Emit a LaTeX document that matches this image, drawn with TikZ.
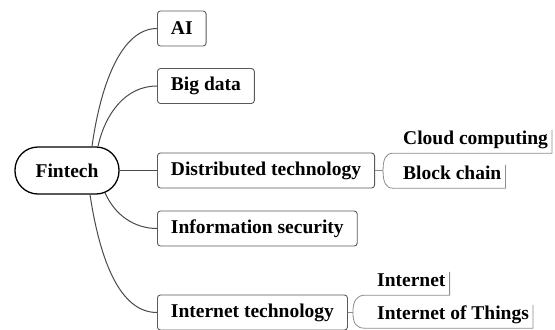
\documentclass[tikz,border=0pt]{standalone}
\usepackage{fontspec}
\setmainfont{Liberation Serif}
\definecolor{boxgray}{HTML}{5A5A5A}
\definecolor{linkgray}{HTML}{4A4A4A}
\definecolor{leafgray}{HTML}{8C8C8C}
\begin{document}
\begin{tikzpicture}[x=1bp,y=-1bp,
  every node/.style={font=\fontsize{19.5bp}{23bp}\selectfont\bfseries, text=black},
  topic/.style={draw=boxgray, line width=0.9bp, rounded corners=3bp, fill=white,
    inner xsep=13.5bp, minimum height=35bp, anchor=west},
  root/.style={draw=black, line width=1.3bp, rounded corners=23bp, fill=white,
    minimum width=104bp, minimum height=47bp},
  leaf/.style={inner xsep=4bp, inner ysep=3.5bp, text height=14bp, text depth=5bp, anchor=west},
  link/.style={draw=linkgray, line width=1bp},
  leafline/.style={draw=leafgray, line width=0.8bp}]
\useasboundingbox (0,0) rectangle (555,329);
\clip (0,0) rectangle (555,329);

\node[root] (fin) at (67,170.5) {Fintech};
\node[topic] (ai) at (157,28.5) {AI};
\node[topic] (bd) at (157,86) {Big data};
\node[topic] (dt) at (157,170.5) {Distributed technology};
\node[topic] (is) at (157,228.5) {Information security};
\node[topic] (it) at (157,312.5) {Internet technology};

\node[leaf] (cc) at (399,140) {Cloud computing};
\node[leaf] (bc) at (399,175) {Block chain};
\node[leaf] (in) at (373,282) {Internet};
\node[leaf] (iot) at (373,315) {Internet of Things};

\draw[link] ([xshift=25bp]fin.north) .. controls +(8,-58) and +(-37,0) .. (ai.west);
\draw[link] ([xshift=31bp]fin.north) .. controls +(7,-32) and +(-32,0) .. (bd.west);
\draw[link] (fin.east) -- (dt.west);
\draw[link] ([xshift=38bp,yshift=2bp]fin.south) .. controls +(10,23) and +(-22,0) .. (is.west);
\draw[link] ([xshift=23bp]fin.south) .. controls +(10,66) and +(-37,0) .. (it.west);

\draw[leafline] (dt.east) -- ++(8,0) coordinate (dtj);
\draw[leafline] (dtj) .. controls +(0,-12) and +(-7,0) .. ([xshift=-6bp]cc.south west)
  -- (cc.south east) -- ([yshift=-3bp]cc.north east);
\draw[leafline] (dtj) .. controls +(0,12) and +(-7,0) .. ([xshift=-6bp]bc.south west)
  -- (bc.south east) -- ([yshift=-3bp]bc.north east);

\draw[leafline] (it.east) -- ++(5,0) coordinate (itj);
\draw[leafline] (itj) .. controls +(0,-12) and +(-8,0) .. ([xshift=-8bp]in.south west)
  -- (in.south east) -- ([yshift=-3bp]in.north east);
\draw[leafline] (itj) .. controls +(0,12) and +(-8,0) .. ([xshift=-8bp]iot.south west)
  -- (iot.south east) -- ([yshift=-3bp]iot.north east);
\end{tikzpicture}
\end{document}
